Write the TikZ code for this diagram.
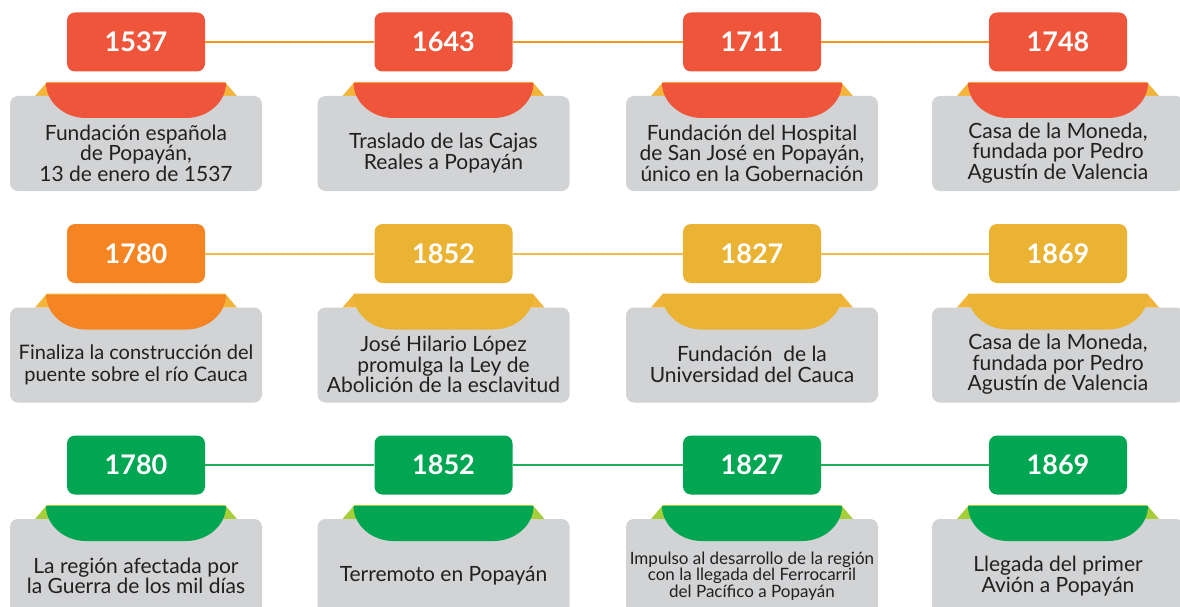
\documentclass[tikz,border=0pt]{standalone}
\usepackage{fontspec}
\setmainfont{Lato}
\usetikzlibrary{positioning}

\definecolor{redyear}{HTML}{EF553A}
\definecolor{orangeyear}{HTML}{F58423}
\definecolor{yellowyear}{HTML}{EAB333}
\definecolor{greenyear}{HTML}{00A651}
\definecolor{orangeline}{HTML}{F7941D}
\definecolor{yellowline}{HTML}{F2BC4C}
\definecolor{greenline}{HTML}{1DAF58}
\definecolor{yellowaccent}{HTML}{F2B53C}
\definecolor{greenaccent}{HTML}{A6CE39}
\definecolor{cardgray}{HTML}{D1D3D4}
\definecolor{inkdark}{HTML}{231F20}

% one milestone: [text options], name, x, y, colour, accent, year, text
\newcommand{\milestone}[8][]{%
  \begin{scope}[shift={(#3,#4)}]
    \fill[#6] (-101,54) -- (-89,40) -- (89,40) -- (101,54) -- cycle;
    \fill[cardgray, rounded corners=8] (-126,54) rectangle (126,149);
    \fill[#5] (-90,41) -- (90,41) .. controls (90,60) and (72,76) .. (50,76)
      -- (-50,76) .. controls (-72,76) and (-90,60) .. (-90,41) -- cycle;
  \end{scope}
  \node[yearbox, fill=#5] (#2) at (#3,#4) {#7};
  \node[eventtext, #1] (#2text) at (#3,#4+111) {#8};
}

\begin{document}
\begin{tikzpicture}[x=1pt, y=-1pt,
    yearbox/.style={rectangle, rounded corners=8, minimum width=138,
      minimum height=59, inner sep=0, text=white,
      font=\bfseries\fontsize{27}{27}\selectfont},
    eventtext/.style={align=center, text=inkdark, inner sep=0,
      font=\fontsize{21}{20.5}\selectfont},
    smalltext/.style={font=\fontsize{17}{15.5}\selectfont},
    widetext/.style={font=\fontsize{20}{22}\selectfont}]
  \useasboundingbox[fill=white] (0,0) rectangle (1180,607);

  % first row
  \milestone{a1}{136}{42}{redyear}{yellowaccent}{1537}{Fundación española\\de Popayán,\\13 de enero de 1537}
  \milestone{a2}{443.5}{42}{redyear}{yellowaccent}{1643}{Traslado de las Cajas\\Reales a Popayán}
  \milestone{a3}{752}{42}{redyear}{yellowaccent}{1711}{Fundación del Hospital\\de San José en Popayán,\\único en la Gobernación}
  \milestone{a4}{1058}{42}{redyear}{yellowaccent}{1748}{Casa de la Moneda,\\fundada por Pedro\\Agustín de Valencia}

  % second row
  \milestone[widetext]{b1}{136}{253.5}{orangeyear}{yellowaccent}{1780}{Finaliza la construcción del\\puente sobre el río Cauca}
  \milestone{b2}{443.5}{253.5}{yellowyear}{yellowaccent}{1852}{José Hilario López\\promulga la Ley de\\Abolición de la esclavitud}
  \milestone{b3}{752}{253.5}{yellowyear}{yellowaccent}{1827}{Fundación\ \ de la\\Universidad del Cauca}
  \milestone{b4}{1058}{253.5}{yellowyear}{yellowaccent}{1869}{Casa de la Moneda,\\fundada por Pedro\\Agustín de Valencia}

  % third row
  \milestone{c1}{136}{465}{greenyear}{greenaccent}{1780}{La región afectada por\\la Guerra de los mil días}
  \milestone{c2}{443.5}{465}{greenyear}{greenaccent}{1852}{Terremoto en Popayán}
  \milestone[smalltext]{c3}{752}{465}{greenyear}{greenaccent}{1827}{Impulso al desarrollo de la región\\con la llegada del Ferrocarril\\del Pacífico a Popayán}
  \milestone{c4}{1058}{465}{greenyear}{greenaccent}{1869}{Llegada del primer\\Avión a Popayán}

  % connectors
  \draw[line width=2, orangeline] (a1) -- (a2);
  \draw[line width=2, orangeline] (a2) -- (a3);
  \draw[line width=2, orangeline] (a3) -- (a4);
  \draw[line width=2, yellowline] (b1) -- (b2);
  \draw[line width=2, yellowline] (b2) -- (b3);
  \draw[line width=2, yellowline] (b3) -- (b4);
  \draw[line width=2, greenline] (c1) -- (c2);
  \draw[line width=2, greenline] (c2) -- (c3);
  \draw[line width=2, greenline] (c3) -- (c4);
\end{tikzpicture}
\end{document}
